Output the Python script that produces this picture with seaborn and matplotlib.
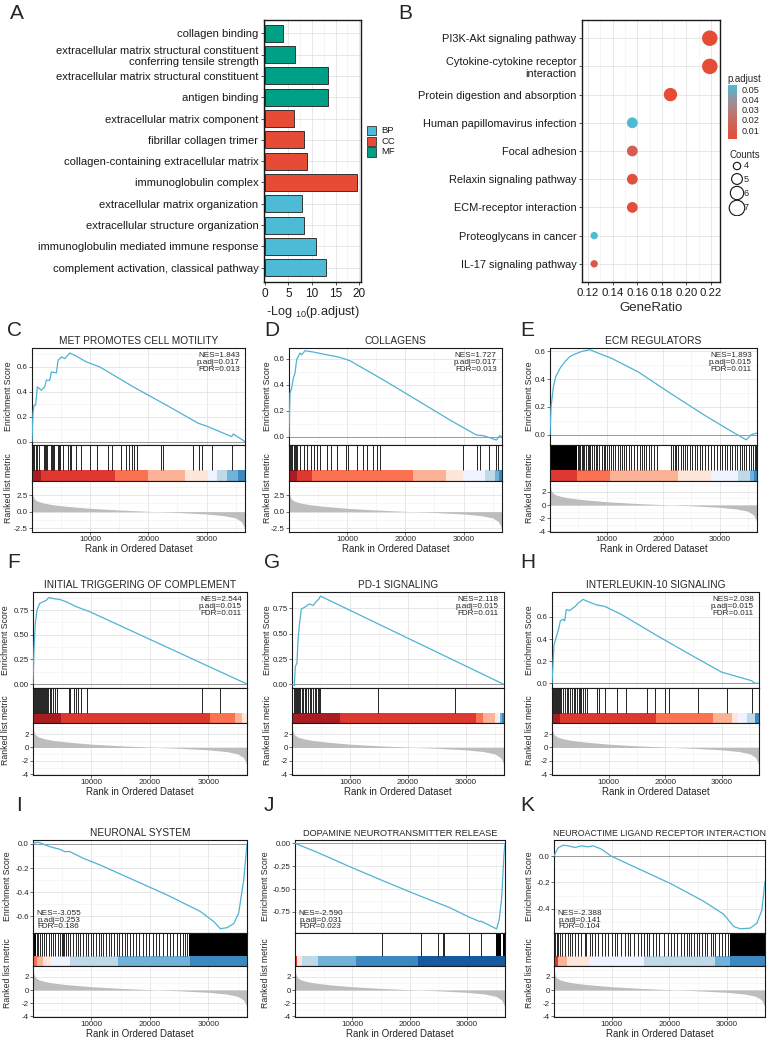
import matplotlib
matplotlib.use("Agg")
import matplotlib.pyplot as plt
import numpy as np
import pandas as pd
import seaborn as sns
from matplotlib.cm import ScalarMappable
from matplotlib.colors import LinearSegmentedColormap, Normalize
from matplotlib.patches import Rectangle
from matplotlib.ticker import MultipleLocator

sns.set_theme(style="white")
plt.rcParams["font.family"] = ["Liberation Sans", "DejaVu Sans"]
plt.rcParams["mathtext.fontset"] = "custom"
plt.rcParams["mathtext.rm"] = "Liberation Sans"
plt.rcParams["mathtext.it"] = "Liberation Sans:italic"

W, H = 767, 1039

# ---------------- Panel A: GO enrichment ----------------
GO_TERMS = [
    "collagen binding",
    "extracellular matrix structural constituent\nconferring tensile strength",
    "extracellular matrix structural constituent",
    "antigen binding",
    "extracellular matrix component",
    "fibrillar collagen trimer",
    "collagen-containing extracellular matrix",
    "immunoglobulin complex",
    "extracellular matrix organization",
    "extracellular structure organization",
    "immunoglobulin mediated immune response",
    "complement activation, classical pathway",
]
GO_LOGP = [3.8, 6.45, 13.3, 13.3, 6.2, 8.2, 9.0, 19.6, 7.9, 8.2, 10.9, 13.0]
GO_ONT = ["MF", "MF", "MF", "MF", "CC", "CC", "CC", "CC", "BP", "BP", "BP", "BP"]
ONT_ORDER = ["BP", "CC", "MF"]
ONT_COLORS = {"BP": "#4DBBD5", "CC": "#E64B35", "MF": "#00A087"}

# ---------------- Panel B: KEGG enrichment ----------------
KEGG_TERMS = [
    "PI3K-Akt signaling pathway",
    "Cytokine-cytokine receptor\ninteraction",
    "Protein digestion and absorption",
    "Human papillomavirus infection",
    "Focal adhesion",
    "Relaxin signaling pathway",
    "ECM-receptor interaction",
    "Proteoglycans in cancer",
    "IL-17 signaling pathway",
]
KEGG_RATIO = [0.219, 0.219, 0.187, 0.156, 0.156, 0.156, 0.156, 0.125, 0.125]
KEGG_COUNT = [7, 7, 6, 5, 5, 5, 5, 4, 4]
KEGG_PADJ = [0.002, 0.002, 0.0015, 0.054, 0.013, 0.005, 0.003, 0.054, 0.009]
PADJ_TICKS = [0.01, 0.02, 0.03, 0.04, 0.05]
COUNT_TICKS = [4, 5, 6, 7]

# ---------------- GSEA: shared ranked list ----------------
N_GENES = 36600
RANK_POS = [0, 150, 400, 1000, 2000, 3500, 6000, 10000, 15000, 20000,
            25000, 30000, 33000, 35000, 36000, 36400, 36600]
RANK_METRIC = [3.4, 2.4, 1.9, 1.55, 1.3, 1.05, 0.8, 0.5, 0.25, 0.05,
               -0.12, -0.35, -0.6, -0.95, -1.5, -2.2, -2.7]

# C: MET PROMOTES CELL MOTILITY
ES_RANK_C = [0, 170, 340, 630, 920, 1600, 2180, 2470, 3040, 3330, 4190, 4480, 5050,
             5630, 6490, 7350, 9360, 11650, 17400, 23100, 28600, 30000, 34300, 34600, 36600]
ES_SCORE_C = [0, 0.227, 0.293, 0.293, 0.44, 0.413, 0.44, 0.493, 0.493, 0.56, 0.552, 0.653,
              0.68, 0.667, 0.712, 0.693, 0.64, 0.6, 0.44, 0.293, 0.147, 0.125, 0.04, 0.061, 0]
HITS_C = [57, 230, 400, 630, 860, 1150, 2070, 2300, 2470, 2640, 3330, 3500, 3670, 3850,
          4530, 4710, 4880, 5340, 6200, 6490, 6660, 7520, 8500, 10040, 11190, 13090,
          13830, 15210, 16070, 16650, 17110, 17510, 18080, 22160, 22560, 27730, 28700,
          29160, 30880, 34440]
DENSE_C = []
BAND_EDGES_C = [0, 1600, 14240, 19980, 26290, 30310, 31740, 33460, 35470, 36600]
BAND_COLS_C = ["#A50F15", "#DE2D26", "#FB6A4A", "#FCAE91", "#FEE5D9",
               "#EFF3FF", "#BDD7E7", "#6BAED6", "#3182BD"]

# D: COLLAGENS
ES_RANK_D = [0, 170, 460, 740, 1030, 1320, 1600, 1890, 2170, 2750, 4180, 6460, 8750,
             10470, 16190, 21910, 27630, 30200, 32200, 33350, 34500, 35640, 36200, 36600]
ES_SCORE_D = [0, 0.335, 0.374, 0.45, 0.49, 0.593, 0.619, 0.644, 0.631, 0.662, 0.652,
              0.631, 0.611, 0.585, 0.438, 0.284, 0.129, 0.064, 0.013, 0.008, -0.008,
              -0.026, 0.008, 0]
HITS_D = [170, 340, 570, 800, 1030, 1200, 1430, 1890, 2630, 3150, 3720, 4350, 4860,
          5320, 6460, 7210, 8180, 9780, 10070, 11610, 12640, 13440, 14360, 15040, 15620,
          29920, 32380, 32780, 34320, 35520, 35920]
DENSE_D = []
BAND_EDGES_D = [0, 1320, 3890, 21340, 26950, 29920, 33640, 35350, 36100, 36600]
BAND_COLS_D = ["#A50F15", "#DE2D26", "#FB6A4A", "#FCAE91", "#FEE5D9",
               "#EFF3FF", "#BDD7E7", "#6BAED6", "#3182BD"]

# E: ECM REGULATORS
ES_RANK_E = [0, 176, 590, 1000, 1760, 2650, 3530, 4410, 5590, 7060, 8530, 10880, 15580,
             21460, 27340, 32050, 34700, 35570, 36600]
ES_SCORE_E = [0, 0.196, 0.343, 0.417, 0.478, 0.527, 0.564, 0.581, 0.6, 0.613, 0.588,
              0.551, 0.453, 0.294, 0.14, 0.025, -0.037, 0, 0.012]
HITS_E = [4880, 5120, 5350, 5590, 5820, 6060, 6290, 6640, 6880, 7110, 7470, 7820, 8060,
          8290, 8640, 9110, 9470, 9700, 10050, 10410, 10760, 11170, 11580, 11940, 12350,
          12760, 13110, 13520, 13940, 14410, 14880, 15460, 15880, 16290, 16640, 17050,
          17460, 17930, 18400, 18870, 21460, 21760, 22050, 22340, 22640, 23110, 23520,
          23810, 24280, 24700, 25110, 25580, 26050, 26460, 26870, 27340, 27930, 28520,
          28990, 29460, 29990, 30400, 30870, 31340, 31750, 32170, 32640, 33100, 33520,
          33930, 34280, 34690, 35100, 35460, 35810, 36160, 36460]
DENSE_E = [(0, 4700)]
BAND_EDGES_E = [0, 4700, 10580, 22640, 28520, 33220, 35280, 36000, 36600]
BAND_COLS_E = ["#DE2D26", "#FB6A4A", "#FCAE91", "#FEE5D9", "#EFF3FF",
               "#BDD7E7", "#6BAED6", "#3182BD"]

# F: INITIAL TRIGGERING OF COMPLEMENT
ES_RANK_F = [0, 170, 400, 690, 1140, 1720, 2290, 2690, 3430, 4580, 5720, 7440, 9720, 36600]
ES_SCORE_F = [0, 0.35, 0.617, 0.75, 0.817, 0.833, 0.85, 0.877, 0.867, 0.857, 0.833,
              0.783, 0.733, 0]
HITS_F = [110, 290, 460, 630, 800, 970, 1140, 1320, 1490, 1660, 1830, 2000, 2170, 2350,
          2570, 2860, 3150, 3430, 3720, 4120, 6180, 6410, 6980, 7320, 7720, 8180, 9270,
          28890, 31920]
DENSE_F = []
BAND_EDGES_F = [0, 4860, 30300, 34600, 35750, 36600]
BAND_COLS_F = ["#A50F15", "#DE2D26", "#FB6A4A", "#FCAE91", "#FEE5D9"]

# G: PD-1 SIGNALING
ES_RANK_G = [0, 400, 576, 864, 1040, 1320, 1610, 2190, 2590, 3050, 3630, 4200, 4670,
             4900, 36600]
ES_SCORE_G = [0, -0.01, 0.177, 0.21, 0.443, 0.61, 0.743, 0.76, 0.777, 0.793, 0.777,
              0.817, 0.843, 0.87, 0]
HITS_G = [400, 580, 750, 920, 1090, 1270, 1440, 1670, 1900, 2190, 2480, 2760, 3050,
          3340, 3630, 3920, 4200, 4440, 4670, 4900, 14860, 28110]
DENSE_G = []
BAND_EDGES_G = [0, 8350, 31850, 33000, 35020, 35600, 35900, 36200, 36600]
BAND_COLS_G = ["#A50F15", "#DE2D26", "#FB6A4A", "#FCAE91", "#FEE5D9",
               "#EFF3FF", "#6BAED6", "#3182BD"]

# H: INTERLEUKIN-10 SIGNALING
ES_RANK_H = [0, 354, 767, 1180, 1475, 1950, 2240, 2540, 3130, 3720, 4130, 4600, 5490,
             6370, 7850, 9320, 12270, 18170, 24070, 29970, 35280, 35870, 36600]
ES_SCORE_H = [0, 0.348, 0.42, 0.493, 0.565, 0.58, 0.565, 0.667, 0.658, 0.681, 0.696,
              0.725, 0.759, 0.739, 0.71, 0.696, 0.623, 0.443, 0.27, 0.101, 0.023, 0, 0]
HITS_H = [120, 300, 470, 650, 830, 1000, 1180, 1420, 1650, 1950, 2240, 2600, 2830, 3190,
          3600, 3890, 4130, 4480, 4720, 4960, 5190, 5490, 5780, 6250, 8020, 8320, 9320,
          11560, 13160, 16880, 18170, 20060, 20650, 25840, 30980, 35400]
DENSE_H = []
BAND_EDGES_H = [0, 1360, 18470, 28500, 31740, 32920, 34400, 35870, 36600]
BAND_COLS_H = ["#A50F15", "#DE2D26", "#FB6A4A", "#FCAE91", "#FEE5D9",
               "#EFF3FF", "#BDD7E7", "#3182BD"]

# I: NEURONAL SYSTEM
ES_RANK_I = [0, 570, 1140, 2860, 4580, 5430, 6290, 8580, 11440, 17160, 22880, 28600,
             30890, 32030, 33180, 34320, 35180, 36040, 36600]
ES_SCORE_I = [0, 0.014, 0.011, -0.022, -0.044, -0.063, -0.063, -0.118, -0.173, -0.297,
              -0.421, -0.558, -0.641, -0.701, -0.693, -0.66, -0.572, -0.297, 0]
HITS_I = [690, 920, 1260, 1600, 1890, 2290, 2690, 3030, 3430, 3830, 4290, 4690, 4920,
          5150, 5380, 5610, 6010, 6410, 6860, 7320, 7780, 8120, 8580, 9040, 9440, 9840,
          10300, 10750, 11210, 11550, 12010, 12470, 12930, 13380, 13840, 14300, 14760,
          15210, 15670, 16130, 16590, 17040, 17620, 18190, 18760, 19330, 19910, 20480,
          21050, 21620, 22310, 22880, 23450, 24020, 24600, 25170, 25620, 26080, 26420]
DENSE_I = [(0, 500), (26600, 36600)]
BAND_EDGES_I = [0, 700, 1700, 3150, 6300, 14600, 26900, 36600]
BAND_COLS_I = ["#FB6A4A", "#FCAE91", "#FEE5D9", "#EFF3FF", "#BDD7E7", "#6BAED6", "#3182BD"]

# J: DOPAMINE NEUROTRANSMITTER RELEASE
ES_RANK_J = [0, 3780, 9590, 15400, 21200, 27000, 29900, 32250, 32400, 35150, 35600,
             36000, 36430, 36600]
ES_SCORE_J = [0, -0.096, -0.257, -0.411, -0.561, -0.704, -0.793, -0.857, -0.85, -0.936,
              -0.829, -0.614, -0.114, 0]
HITS_J = [15110, 21960, 24980, 25860, 26030, 30330, 32360]
DENSE_J = [(35030, 35900), (36200, 36600)]
BAND_EDGES_J = [0, 300, 1160, 4070, 10630, 21500, 36600]
BAND_COLS_J = ["#DE2D26", "#FEE5D9", "#BDD7E7", "#6BAED6", "#3182BD", "#08519C"]

# K: NEUROACTIME LIGAND RECEPTOR INTERACTION
ES_RANK_K = [0, 290, 750, 1610, 2470, 3620, 4760, 5910, 6770, 8210, 9930, 14520, 20260,
             26000, 29450, 31170, 32320, 34040, 35190, 36050, 36600]
ES_SCORE_K = [0, 0.029, 0.066, 0.083, 0.079, 0.066, 0.079, 0.071, 0.079, 0.054, 0,
              -0.093, -0.209, -0.344, -0.442, -0.535, -0.552, -0.547, -0.51, -0.412, -0.19]
HITS_K = [170, 460, 750, 1030, 1440, 1890, 2350, 2760, 3040, 3620, 4080, 4650, 5340,
          5630, 6200, 6600, 7060, 7630, 8320, 8780, 9360, 10050, 10620, 10960, 11650,
          12230, 12800, 13260, 13950, 14640, 15100, 15670, 16130, 16530, 17110, 17680,
          18260, 19110, 19690, 20260, 20840, 21410, 21980, 22560, 23020, 23420, 23820,
          24280, 24740, 25140, 25710, 26120, 26580, 27150, 27610, 28010, 28590, 29160,
          29740, 30140, 30480]
DENSE_K = [(30600, 36600)]
BAND_EDGES_K = [0, 630, 2180, 6200, 15670, 28010, 30600, 36600]
BAND_COLS_K = ["#DE2D26", "#FCAE91", "#FEE5D9", "#EFF3FF", "#BDD7E7", "#6BAED6", "#3182BD"]

GSEA = [
    dict(letter="C", title="MET PROMOTES CELL MOTILITY", rank=ES_RANK_C, score=ES_SCORE_C,
         hits=HITS_C, dense=DENSE_C, edges=BAND_EDGES_C, cols=BAND_COLS_C,
         stats=("1.843", "0.017", "0.013"), ylim=(-0.027, 0.752),
         yticks=[0, 0.2, 0.4, 0.6], fmt="{:.1f}", rk="half"),
    dict(letter="D", title="COLLAGENS", rank=ES_RANK_D, score=ES_SCORE_D,
         hits=HITS_D, dense=DENSE_D, edges=BAND_EDGES_D, cols=BAND_COLS_D,
         stats=("1.727", "0.017", "0.013"), ylim=(-0.064, 0.683),
         yticks=[0, 0.2, 0.4, 0.6], fmt="{:.1f}", rk="half"),
    dict(letter="E", title="ECM REGULATORS", rank=ES_RANK_E, score=ES_SCORE_E,
         hits=HITS_E, dense=DENSE_E, edges=BAND_EDGES_E, cols=BAND_COLS_E,
         stats=("1.893", "0.015", "0.011"), ylim=(-0.074, 0.625),
         yticks=[0, 0.2, 0.4, 0.6], fmt="{:.1f}", rk="int"),
    dict(letter="F", title="INITIAL TRIGGERING OF COMPLEMENT", rank=ES_RANK_F,
         score=ES_SCORE_F, hits=HITS_F, dense=DENSE_F, edges=BAND_EDGES_F,
         cols=BAND_COLS_F, stats=("2.544", "0.015", "0.011"), ylim=(-0.04, 0.933),
         yticks=[0, 0.25, 0.5, 0.75], fmt="{:.2f}", rk="int"),
    dict(letter="G", title="PD-1 SIGNALING", rank=ES_RANK_G, score=ES_SCORE_G,
         hits=HITS_G, dense=DENSE_G, edges=BAND_EDGES_G, cols=BAND_COLS_G,
         stats=("2.118", "0.015", "0.011"), ylim=(-0.035, 0.91),
         yticks=[0, 0.25, 0.5, 0.75], fmt="{:.2f}", rk="int"),
    dict(letter="H", title="INTERLEUKIN-10 SIGNALING", rank=ES_RANK_H, score=ES_SCORE_H,
         hits=HITS_H, dense=DENSE_H, edges=BAND_EDGES_H, cols=BAND_COLS_H,
         stats=("2.038", "0.015", "0.011"), ylim=(-0.043, 0.826),
         yticks=[0, 0.2, 0.4, 0.6], fmt="{:.1f}", rk="int"),
    dict(letter="I", title="NEURONAL SYSTEM", rank=ES_RANK_I, score=ES_SCORE_I,
         hits=HITS_I, dense=DENSE_I, edges=BAND_EDGES_I, cols=BAND_COLS_I,
         stats=("-3.055", "0.253", "0.186"), ylim=(-0.737, 0.033),
         yticks=[-0.6, -0.4, -0.2, 0], fmt="{:.1f}", rk="int"),
    dict(letter="J", title="DOPAMINE NEUROTRANSMITTER RELEASE", rank=ES_RANK_J,
         score=ES_SCORE_J, hits=HITS_J, dense=DENSE_J, edges=BAND_EDGES_J,
         cols=BAND_COLS_J, stats=("-2.590", "0.031", "0.023"), ylim=(-0.98, 0.036),
         yticks=[-0.75, -0.5, -0.25, 0], fmt="{:.2f}", rk="int"),
    dict(letter="K", title="NEUROACTIME LIGAND RECEPTOR INTERACTION", rank=ES_RANK_K,
         score=ES_SCORE_K, hits=HITS_K, dense=DENSE_K, edges=BAND_EDGES_K,
         cols=BAND_COLS_K, stats=("-2.388", "0.141", "0.104"), ylim=(-0.584, 0.123),
         yticks=[-0.4, -0.2, 0], fmt="{:.1f}", rk="int"),
]

RANK_STYLES = {
    "half": ((-3.05, 4.6), [-2.5, 0, 2.5], "{:.1f}", 1.25),
    "int": ((-4.1, 3.65), [-4, -2, 0, 2], "{:.0f}", 1.0),
}

# layout in pixels: axes left, axes right, y-label centre x, title size
PANEL_X = [(32, 245, 9, 7.3), (289, 502, 268, 7.3), (550, 757, 529, 7.5),
           (33, 247, 6, 7.3), (292, 504, 267, 7.2), (552, 759, 530, 7.3),
           (33, 247, 8, 7.3), (295, 505, 266, 6.7), (554, 765, 530, 6.3)]
ROWS_Y = [(348, 445, 481, 532), (592, 688, 723, 775), (840, 933, 966, 1017)]
LETTER_X = [7, 264, 520]
LETTER_Y = [321, 553, 796]

ES_COLOR = "#4EB3D3"
FRAME = "#1A1A1A"


def box(x0, y0, x1, y1):
    return [x0 / W, 1 - y1 / H, (x1 - x0) / W, (y1 - y0) / H]


def frame(ax, lw=0.8):
    for s in ax.spines.values():
        s.set_visible(True)
        s.set_color(FRAME)
        s.set_linewidth(lw)


def grid(ax):
    ax.set_axisbelow(True)
    ax.grid(True, which="major", color="#E2E2E2", lw=0.55)
    ax.grid(True, which="minor", color="#EFEFEF", lw=0.4)
    ax.tick_params(which="minor", length=0)


def panel_go(fig):
    ax = fig.add_axes(box(264, 20, 361, 282))
    df = pd.DataFrame({"term": GO_TERMS, "value": GO_LOGP, "ont": GO_ONT})
    sns.barplot(data=df, x="value", y="term", hue="ont", palette=ONT_COLORS,
                dodge=False, width=0.8, edgecolor="#333333", linewidth=0.7,
                saturation=1, legend=False, orient="h", ax=ax)
    ax.set_xlim(-0.2, 20.4)
    ax.set_ylim(len(GO_TERMS) - 0.33, -0.625)
    ax.set_xticks([0, 5, 10, 15, 20])
    ax.xaxis.set_minor_locator(MultipleLocator(2.5))
    grid(ax)
    frame(ax, 1.0)
    ax.tick_params(which="major", labelsize=8.1, length=2.5, width=0.6,
                   color="#333333", pad=1.5, labelcolor="#1A1A1A",
                   left=True, bottom=True)
    ax.tick_params(axis="x", which="major", labelsize=8.5)
    ax.set_ylabel("")
    ax.set_xlabel(r"-Log $_{10}$(p.adjust)", fontsize=9.2, labelpad=3)

    # legend for ontology
    for i, ont in enumerate(ONT_ORDER):
        y0 = 126 + i * 10.7
        fig.add_artist(Rectangle((367 / W, 1 - (y0 + 9.2) / H), 9 / W, 9.2 / H,
                                 transform=fig.transFigure, facecolor=ONT_COLORS[ont],
                                 edgecolor="#333333", lw=0.6))
        fig.text(381 / W, 1 - (y0 + 4.6) / H, ont, fontsize=6.8, va="center",
                 ha="left", color="#1A1A1A")
    fig.text(10 / W, 1 - 4 / H, "A", fontsize=15, va="top", ha="left")


def panel_kegg(fig):
    ax = fig.add_axes(box(582, 20, 720, 282))
    df = pd.DataFrame({"term": KEGG_TERMS, "ratio": KEGG_RATIO,
                       "count": KEGG_COUNT, "padj": KEGG_PADJ})
    cmap = LinearSegmentedColormap.from_list(
        "padj", ["#E64B35", "#C8695E", "#A38B90", "#4DBBD5"])
    norm = Normalize(0.0012, 0.0542)
    sns.scatterplot(data=df, x="ratio", y="term", hue="padj", size="count",
                    palette=cmap, hue_norm=norm, sizes=(28, 125), size_norm=(4, 7),
                    legend=False, linewidth=0, ax=ax, zorder=3)
    ax.set_ylim(len(KEGG_TERMS) - 0.355, -0.645)
    ax.set_xlim(0.1151, 0.2273)
    ax.set_xticks([0.12, 0.14, 0.16, 0.18, 0.20, 0.22])
    ax.set_xticklabels(["0.12", "0.14", "0.16", "0.18", "0.20", "0.22"])
    ax.xaxis.set_minor_locator(MultipleLocator(0.01))
    grid(ax)
    frame(ax, 1.0)
    ax.tick_params(which="major", labelsize=7.9, length=2.5, width=0.6,
                   color="#333333", pad=1.5, labelcolor="#1A1A1A", left=True, bottom=True)
    ax.tick_params(axis="x", which="major", labelsize=8.2)
    ax.set_ylabel("")
    ax.set_xlabel("GeneRatio", fontsize=9.5, labelpad=3)

    # colour bar for p.adjust
    cax = fig.add_axes(box(728, 85, 737, 139))
    cb = fig.colorbar(ScalarMappable(norm=norm, cmap=cmap), cax=cax, ticks=PADJ_TICKS)
    cb.outline.set_visible(False)
    cb.ax.tick_params(labelsize=6.6, length=2, color="white", width=0.6, pad=1.5)
    cb.ax.set_yticklabels([f"{t:.2f}" for t in PADJ_TICKS])
    fig.text(727 / W, 1 - 79 / H, "p.adjust", fontsize=6.9, va="center", ha="left")

    # size legend for Counts
    fig.text(729 / W, 1 - 155 / H, "Counts", fontsize=6.9, va="center", ha="left")
    lax = fig.add_axes(box(722, 158, 767, 216))
    lax.set_xlim(722, 767)
    lax.set_ylim(216, 158)
    lax.axis("off")
    ys = [166, 179, 193, 208]
    areas = [28 + (c - 4) / 3 * (125 - 28) for c in COUNT_TICKS]
    lax.scatter([737] * len(ys), ys, s=areas, facecolors="none",
                edgecolors="#111111", linewidths=0.8)
    for y, c in zip(ys, COUNT_TICKS):
        lax.text(744, y, str(c), fontsize=6.6, va="center", ha="left")
    fig.text(398 / W, 1 - 4 / H, "B", fontsize=15, va="top", ha="left")


def panel_gsea(fig, p, idx):
    col, row = idx % 3, idx // 3
    x0, x1, lab_x, title_size = PANEL_X[idx]
    y_es, y_hit, y_rank, y_bot = ROWS_Y[row]

    # running enrichment score
    ax1 = fig.add_axes(box(x0, y_es, x1, y_hit))
    sns.lineplot(x=p["rank"], y=p["score"], color=ES_COLOR, lw=0.9,
                 estimator=None, sort=False, ax=ax1, zorder=3)
    ax1.axhline(0, color="#9A9A9A", lw=0.7, zorder=2)
    ax1.set_xlim(0, N_GENES)
    ax1.set_ylim(*p["ylim"])
    ax1.set_xticks([10000, 20000, 30000])
    ax1.xaxis.set_minor_locator(MultipleLocator(5000))
    ax1.set_yticks(p["yticks"])
    ax1.set_yticklabels([p["fmt"].format(t) for t in p["yticks"]])
    step = p["yticks"][1] - p["yticks"][0]
    ax1.yaxis.set_minor_locator(MultipleLocator(step / 2))
    grid(ax1)
    frame(ax1)
    ax1.tick_params(axis="x", which="both", length=0, labelbottom=False)
    ax1.tick_params(axis="y", which="major", labelsize=5.7, length=2, width=0.5,
                    pad=1, left=True, color="#333333")
    ax1.set_title(p["title"], fontsize=title_size, pad=3)
    nes, padj, fdr = p["stats"]
    label = f"NES={nes}\np.adj={padj}\nFDR={fdr}"
    if not nes.startswith("-"):
        ax1.text(0.975, 0.955, label, transform=ax1.transAxes, ha="right", va="top",
                 fontsize=5.9, linespacing=0.92)
    else:
        ax1.text(0.015, 0.03, label, transform=ax1.transAxes, ha="left", va="bottom",
                 multialignment="center", fontsize=5.9, linespacing=0.92)

    # hits and colour band
    ax2 = fig.add_axes(box(x0, y_hit, x1, y_rank))
    ax2.set_xlim(0, N_GENES)
    ax2.set_ylim(0, 1)
    edges = p["edges"]
    ax2.bar(edges[:-1], 0.3, width=np.diff(edges), align="edge", bottom=0,
            color=p["cols"], lw=0, alpha=0.95)
    ax2.vlines(p["hits"], 0.3, 1.0, colors="black", lw=0.6)
    for a, b in p["dense"]:
        ax2.bar(a, 0.7, width=b - a, bottom=0.3, align="edge", color="black", lw=0)
    ax2.set_xticks([])
    ax2.set_yticks([])
    frame(ax2)

    # ranked list metric
    ax3 = fig.add_axes(box(x0, y_rank, x1, y_bot))
    ax3.fill_between(RANK_POS, RANK_METRIC, 0, color="#BDBDBD", lw=0, zorder=2)
    ylim, ticks, fmt, minor = RANK_STYLES[p["rk"]]
    ax3.set_xlim(0, N_GENES)
    ax3.set_ylim(*ylim)
    ax3.set_yticks(ticks)
    ax3.set_yticklabels([fmt.format(t) for t in ticks])
    ax3.yaxis.set_minor_locator(MultipleLocator(minor))
    ax3.set_xticks([10000, 20000, 30000])
    ax3.xaxis.set_minor_locator(MultipleLocator(5000))
    grid(ax3)
    frame(ax3)
    ax3.tick_params(which="major", labelsize=5.8, length=2, width=0.5, pad=1,
                    left=True, bottom=True, color="#333333")
    ax3.set_xlabel("Rank in Ordered Dataset", fontsize=7.0, labelpad=0.5)

    fig.text(lab_x / W, 1 - (y_es + y_hit) / 2 / H, "Enrichment Score",
             rotation=90, fontsize=6.3, ha="center", va="center")
    fig.text(lab_x / W, 1 - (y_rank + 7) / H, "Ranked list metric",
             rotation=90, fontsize=6.3, ha="center", va="center")
    lx = LETTER_X[col] + (9 if p["letter"] == "I" else 0)
    fig.text(lx / W, 1 - LETTER_Y[row] / H, p["letter"], fontsize=15,
             va="top", ha="left")


fig = plt.figure(figsize=(W / 100, H / 100), dpi=100)
panel_go(fig)
panel_kegg(fig)
for i, panel in enumerate(GSEA):
    panel_gsea(fig, panel, i)

fig.savefig("out.png", dpi=100)
